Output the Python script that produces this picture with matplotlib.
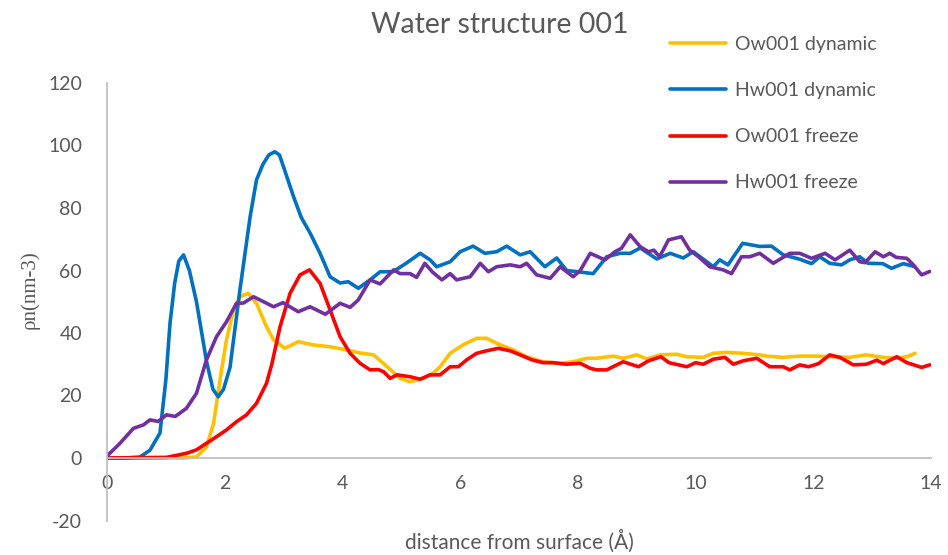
import matplotlib
matplotlib.use("Agg")
import matplotlib.pyplot as plt

# Hw001 dynamic (blue)
hw_dyn_x = [0, 0.3, 0.56, 0.73, 0.9, 1.0, 1.07, 1.15, 1.22, 1.30, 1.40, 1.52, 1.69, 1.80, 1.89, 1.98,
            2.09, 2.26, 2.43, 2.54, 2.65, 2.75, 2.85, 2.93, 3.02, 3.17, 3.3, 3.45, 3.62, 3.79, 3.96,
            4.1, 4.27, 4.47, 4.64, 4.86, 5.09, 5.32, 5.49, 5.6, 5.83, 6.0, 6.22, 6.42, 6.62, 6.79,
            7.02, 7.19, 7.44, 7.64, 7.81, 8.04, 8.26, 8.49, 8.72, 8.89, 9.06, 9.34, 9.57, 9.79,
            9.96, 10.19, 10.3, 10.41, 10.55, 10.8, 11.09, 11.29, 11.49, 11.77, 11.97, 12.11, 12.28,
            12.48, 12.62, 12.79, 12.93, 13.18, 13.33, 13.53, 13.73]
hw_dyn_y = [0, 0, 0.3, 2.5, 8, 25, 43, 56, 63, 65, 60, 50, 31, 22, 19.6, 22,
            29, 54, 77, 89, 94, 97, 98, 97, 92, 83.6, 77, 72, 65.5, 58, 56,
            56.4, 54.3, 57, 59.6, 59.6, 62.4, 65.5, 63.4, 61.2, 62.8, 66, 67.8, 65.5, 66, 67.8,
            65, 66, 61.2, 64, 60, 59.5, 59, 64.4, 65.5, 65.5, 67.2, 63.7, 65.5, 64,
            66, 62.8, 61.2, 63.4, 61.8, 68.7, 67.7, 67.8, 65, 63.6, 62.2, 64.4, 62.3,
            61.8, 63.4, 64.4, 62.3, 62.2, 60.7, 62.2, 61.2]

# Hw001 freeze (purple)
hw_frz_x = [0, 0.02, 0.22, 0.45, 0.62, 0.73, 0.87, 1.01, 1.16, 1.35, 1.52, 1.69, 1.86, 2.03, 2.2,
            2.32, 2.49, 2.66, 2.83, 2.99, 3.25, 3.45, 3.71, 3.96, 4.13, 4.27, 4.47, 4.64, 4.87,
            4.98, 5.15, 5.26, 5.4, 5.53, 5.69, 5.83, 5.94, 6.17, 6.34, 6.48, 6.62, 6.85, 7.02,
            7.13, 7.3, 7.53, 7.7, 7.92, 8.04, 8.21, 8.46, 8.63, 8.74, 8.89, 9.06, 9.2, 9.29,
            9.39, 9.54, 9.76, 9.9, 10.05, 10.24, 10.47, 10.61, 10.78, 10.92, 11.09, 11.32, 11.6,
            11.77, 11.97, 12.2, 12.37, 12.62, 12.79, 12.88, 13.05, 13.19, 13.3, 13.41, 13.59,
            13.7, 13.84, 13.98]
hw_frz_y = [0, 1, 4.7, 9.5, 10.6, 12.2, 11.7, 13.8, 13.3, 15.9, 20.7, 31.4, 38.8, 43.6, 49.5,
            49.6, 51.6, 50, 48.4, 49.7, 46.8, 48.4, 46, 49.5, 48.2, 50.6, 57, 55.7, 60.2,
            59, 59, 57.8, 62.3, 59.5, 57, 59, 57, 58, 62.3, 59.6, 61.2, 61.8, 61.2,
            62.3, 58.6, 57.5, 61.2, 58, 60, 65.5, 63.4, 66, 67.1, 71.4, 67.6, 66, 66.5,
            64.4, 69.8, 70.8, 66.5, 64.4, 61.2, 60.2, 59, 64.4, 64.4, 65.5, 62.3, 65.5,
            65.5, 63.9, 65.5, 63.4, 66.5, 62.8, 62.5, 66, 64.4, 65.5, 64.2, 63.9,
            61.8, 58.6, 59.7]

# Ow001 dynamic (yellow)
ow_dyn_x = [0, 1.3, 1.52, 1.69, 1.81, 1.92, 2.03, 2.15, 2.26, 2.4, 2.54, 2.71, 2.83, 3.02, 3.25,
            3.5, 3.79, 4.07, 4.3, 4.53, 4.76, 4.98, 5.15, 5.37, 5.54, 5.66, 5.83, 6.05, 6.28,
            6.45, 6.62, 6.9, 7.13, 7.41, 7.7, 7.92, 8.15, 8.32, 8.6, 8.77, 9.0, 9.17, 9.4, 9.68,
            9.85, 10.13, 10.3, 10.53, 10.81, 11.09, 11.21, 11.49, 11.77, 12.06, 12.34, 12.62,
            12.9, 13.19, 13.41, 13.59, 13.73]
ow_dyn_y = [0, 0, 0.3, 3.6, 11, 25, 37.8, 47.4, 51.6, 52.7, 49.5, 42, 37.8, 35.1, 37.2,
            36.2, 35.6, 34.6, 33.6, 33, 29.2, 25.5, 24.4, 25.5, 27.1, 29.2, 33.5, 36.2, 38.3,
            38.3, 36.7, 34.6, 32.4, 30.8, 30.3, 30.8, 31.9, 31.9, 32.6, 31.9, 33, 31.7, 33, 33.2,
            32.4, 32.2, 33.5, 33.8, 33.5, 33, 32.6, 32.2, 32.6, 32.6, 32.4, 32.2,
            33, 32.2, 31.9, 32.4, 33.5]

# Ow001 freeze (red)
ow_frz_x = [0, 1.01, 1.35, 1.52, 1.69, 1.86, 2.03, 2.2, 2.37, 2.54, 2.71, 2.8, 2.94, 3.11, 3.28,
            3.44, 3.62, 3.79, 3.96, 4.13, 4.3, 4.47, 4.61, 4.7, 4.81, 4.93, 5.15, 5.32, 5.49,
            5.66, 5.83, 5.97, 6.11, 6.28, 6.45, 6.65, 6.85, 7.02, 7.22, 7.41, 7.58, 7.81, 8.04,
            8.21, 8.32, 8.49, 8.77, 9.03, 9.2, 9.41, 9.55, 9.85, 10.0, 10.13, 10.3, 10.5, 10.64,
            10.81, 11.04, 11.26, 11.49, 11.6, 11.77, 11.92, 12.09, 12.28, 12.45, 12.68, 12.9,
            13.08, 13.19, 13.42, 13.59, 13.84, 13.98]
ow_frz_y = [0, 0.2, 1.5, 2.6, 4.7, 6.8, 9, 11.6, 13.8, 17.5, 23.9, 30, 42, 52.7, 58.6,
            60.2, 55.9, 47.4, 38.8, 33.5, 30.3, 28.2, 28.3, 27.6, 25.5, 26.6, 26, 25.2, 26.6,
            26.6, 29.2, 29.2, 31.4, 33.5, 34.3, 35.1, 34.3, 33, 31.4, 30.5, 30.5, 30, 30.3,
            28.7, 28.2, 28.2, 30.8, 29.2, 31.1, 32.4, 30.5, 29.2, 30.5, 30, 31.6, 32.2, 30,
            31.1, 31.9, 29.2, 29.2, 28.2, 29.8, 29.2, 30.2, 33, 32.2, 29.8, 30,
            31.3, 30.2, 32.4, 30.5, 29, 29.8]

labels = ["Ow001 dynamic", "Hw001 dynamic", "Ow001 freeze", "Hw001 freeze"]
colors = ["#FFC000", "#0070C0", "#FF0000", "#7030A0"]
x_ticks = [0, 2, 4, 6, 8, 10, 12, 14]
y_ticks = [-20, 0, 20, 40, 60, 80, 100, 120]

plt.rcParams['font.family'] = ['Lato', 'DejaVu Sans']
plt.rcParams['axes.unicode_minus'] = False
txt = "#595959"
axc = "#BFBFBF"

fig = plt.figure(figsize=(9.48, 5.55), dpi=100)
ax = fig.add_axes([107/948, (555-520.5)/555, (931-107)/948, (520.5-83)/555])

series = [(ow_dyn_x, ow_dyn_y), (hw_dyn_x, hw_dyn_y), (ow_frz_x, ow_frz_y), (hw_frz_x, hw_frz_y)]
for (xs, ys), lab, c in zip(series, labels, colors):
    ax.plot(xs, ys, color=c, lw=2.6, label=lab, solid_capstyle='round', solid_joinstyle='round')

ax.set_xlim(0, 14)
ax.set_ylim(-20, 120)
ax.set_xticks(x_ticks)
ax.set_yticks(y_ticks)
ax.spines['top'].set_visible(False)
ax.spines['right'].set_visible(False)
ax.spines['bottom'].set_position(('data', 0))
ax.spines['bottom'].set_color(axc)
ax.spines['left'].set_color(axc)
ax.spines['bottom'].set_linewidth(1.3)
ax.spines['left'].set_linewidth(1.3)
ax.tick_params(axis='both', length=0, labelsize=14, labelcolor=txt)
ax.tick_params(axis='x', pad=12)
ax.tick_params(axis='y', pad=18)

fig.text(500/948, 1 - 25/555, "Water structure 001", ha='center', va='center', fontsize=20.5, color=txt)
fig.text(519/948, 1 - 541/555, "distance from surface (\u00c5)", ha='center', va='center', fontsize=15, color=txt)
fig.text(30/948, 1 - 290/555, "\u03c1n(nm-3)", ha='center', va='center', rotation=90, fontsize=15,
         color=txt, family=['Liberation Serif', 'DejaVu Serif'])

leg = fig.legend(loc='upper left', bbox_to_anchor=(670/948, 1 - 36/555), frameon=False,
                 fontsize=14, handlelength=2.9, handletextpad=0.45, labelspacing=1.5,
                 borderaxespad=0, borderpad=0)
for t in leg.get_texts():
    t.set_color(txt)

fig.savefig("out.png", dpi=100)
